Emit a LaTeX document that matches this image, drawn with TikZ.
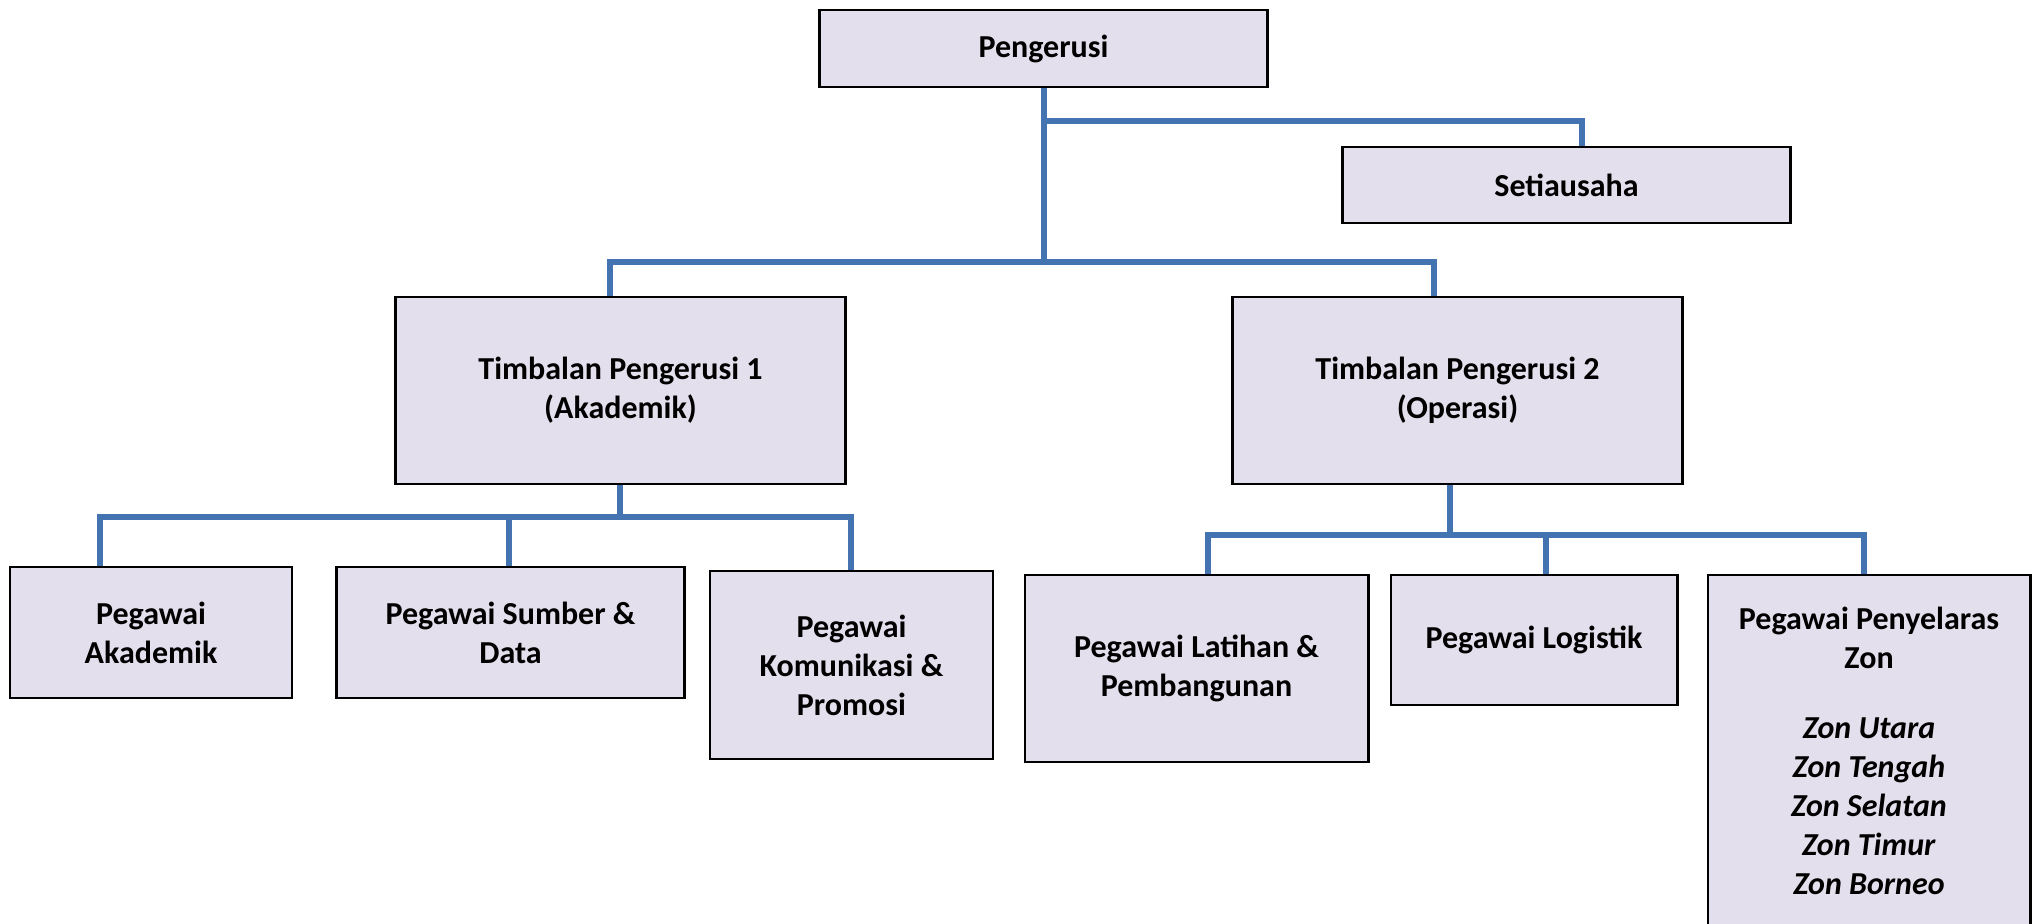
\documentclass[tikz,border=0pt]{standalone}
\usepackage{fontspec}
\setmainfont{Carlito}
\definecolor{boxfill}{HTML}{E4DFEC}
\definecolor{linkblue}{HTML}{4473B2}
\begin{document}
\begin{tikzpicture}[x=0.01cm, y=-0.01cm,
    box/.style={draw=black, line width=0.8pt, fill=boxfill, align=center,
      inner sep=0pt, font=\bfseries\fontsize{9.1}{11.1}\selectfont},
    link/.style={draw=linkblue, line width=1.6pt}]
  \useasboundingbox (0,0) rectangle (2035,923);

  % Top
  \node[box, minimum width=4.47cm, minimum height=0.77cm] (peng) at (1043.5,48.5) {Pengerusi};
  \node[box, minimum width=4.47cm, minimum height=0.76cm] (setia) at (1566.5,185) {Setiausaha};

  % Timbalan
  \node[box, minimum width=4.49cm, minimum height=1.87cm] (tp1) at (620.5,390.5) {Timbalan Pengerusi 1\\(Akademik)};
  \node[box, minimum width=4.49cm, minimum height=1.87cm] (tp2) at (1457.5,390.5) {Timbalan Pengerusi 2\\(Operasi)};

  % Pegawai (Akademik)
  \node[box, minimum width=2.82cm, minimum height=1.31cm] (akad) at (151,632.5) {Pegawai\\Akademik};
  \node[box, minimum width=3.47cm, minimum height=1.31cm] (sumber) at (510.5,632.5) {Pegawai Sumber \&\\Data};
  \node[box, minimum width=2.83cm, minimum height=1.88cm] (komun) at (851.5,665) {Pegawai\\Komunikasi \&\\Promosi};

  % Pegawai (Operasi)
  \node[box, minimum width=3.43cm, minimum height=1.87cm] (latihan) at (1196.5,668.5) {Pegawai Latihan \&\\Pembangunan};
  \node[box, minimum width=2.86cm, minimum height=1.30cm] (logistik) at (1534,640) {Pegawai Logistik};
  \node[box, minimum width=3.22cm, minimum height=3.52cm] (zon) at (1869,751) {Pegawai Penyelaras\\Zon\\[0.31cm]
    \textit{Zon Utara}\\\textit{Zon Tengah}\\\textit{Zon Selatan}\\\textit{Zon Timur}\\\textit{Zon Borneo}};

  % Links
  \coordinate (s0) at (1044,121);
  \coordinate (s1) at (1582,121);
  \coordinate (b0) at (1044,262);
  \coordinate (t1) at (610,262);
  \coordinate (t2) at (1434,262);
  \draw[link] (b0 |- peng.south) -- (b0);
  \draw[link] (s0) -- (s1) -- (s1 |- setia.north);
  \draw[link] (t1 |- tp1.north) -- (t1) -- (t2) -- (t2 |- tp2.north);

  \coordinate (b1) at (620,517);
  \coordinate (d1) at (100,517);
  \coordinate (d2) at (509,517);
  \coordinate (d3) at (851,517);
  \draw[link] (b1 |- tp1.south) -- (b1);
  \draw[link] (d1 |- akad.north) -- (d1) -- (d3) -- (d3 |- komun.north);
  \draw[link] (d2) -- (d2 |- sumber.north);

  \coordinate (b2) at (1450,535);
  \coordinate (d4) at (1208,535);
  \coordinate (d5) at (1546,535);
  \coordinate (d6) at (1864,535);
  \draw[link] (b2 |- tp2.south) -- (b2);
  \draw[link] (d4 |- latihan.north) -- (d4) -- (d6) -- (d6 |- zon.north);
  \draw[link] (d5) -- (d5 |- logistik.north);
\end{tikzpicture}
\end{document}
